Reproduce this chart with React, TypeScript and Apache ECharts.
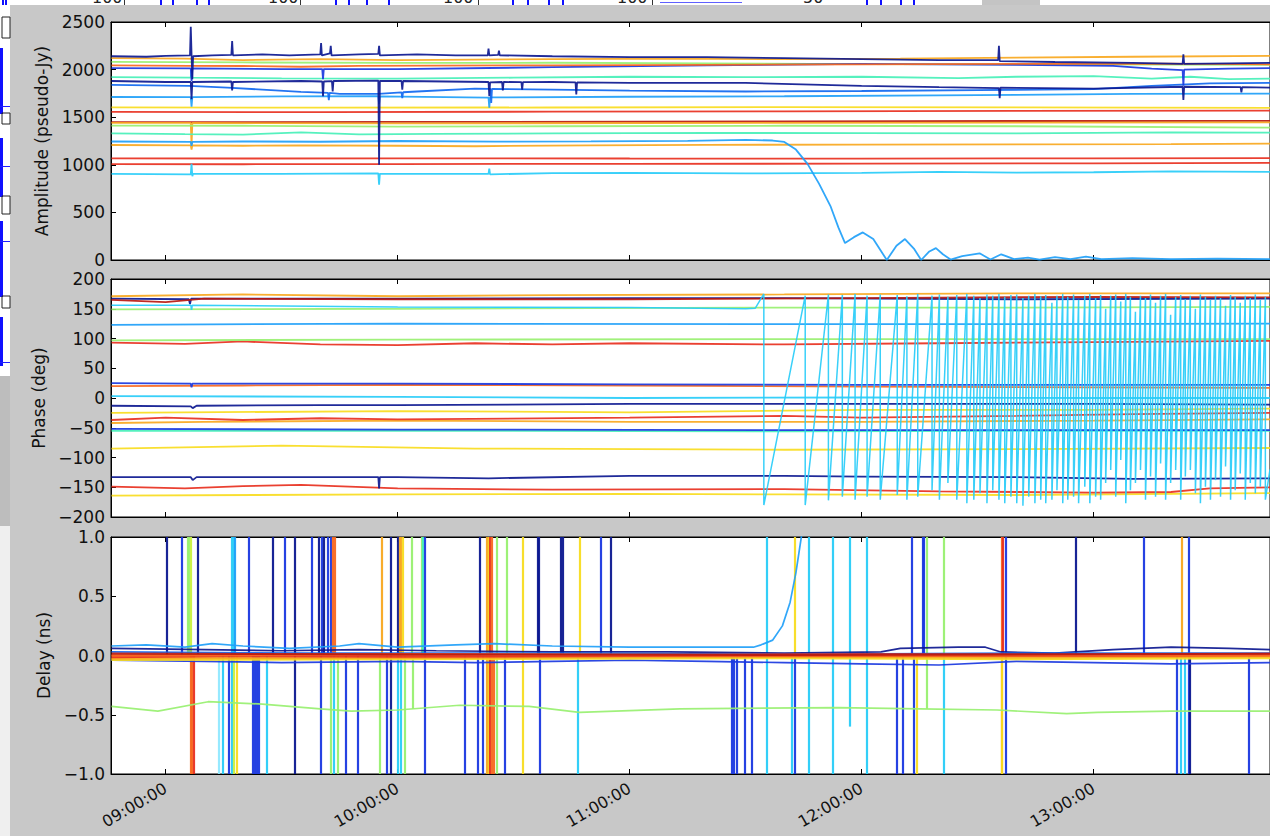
import React, { useEffect, useRef } from "react";
import * as echarts from "echarts";

// ---------- axes ----------
const X_MIN = 525.87; // minutes after midnight (08:45:52)
const X_MAX = 825.6;
const hourTicks = [540, 600, 660, 720, 780];

// jet-like colours, indexed by baseline
const palette = [
  "#0c1890", // 0 dark blue
  "#1a38e0", // 1 blue
  "#1068f0", // 2 mid blue
  "#20a0f8", // 3 light blue
  "#28ccf8", // 4 cyan
  "#48f0b8", // 5 aqua
  "#98f070", // 6 light green
  "#c8f040", // 7 yellow green
  "#f8dc20", // 8 yellow
  "#f8a820", // 9 orange
  "#f86820", // 10 orange red
  "#e83020", // 11 red
  "#b81810", // 12 dark red
  "#90e8ff", // 13 pale cyan
];

// ---------- amplitude (pseudo-Jy) ----------
const ampDarkBlueTop = [[526,2140],[535,2135],[540,2145],[546.3,2150],[546.5,2450],[546.7,2160],[546.9,1900],[547.1,2140],[552,2150],[557,2155],[557.2,2300],[557.4,2150],[565,2160],[572,2150],[580,2160],[580.2,2280],[580.4,2150],[582.5,2170],[582.7,2250],[582.9,2150],[590,2160],[595,2165],[595.2,2250],[595.4,2150],[605,2160],[615,2150],[623.3,2150],[623.5,2220],[623.7,2150],[626,2155],[626.2,2200],[626.4,2150],[640,2140],[660,2130],[680,2130],[700,2120],[720,2110],[740,2100],[755.3,2100],[755.5,2250],[755.7,2090],[770,2080],[790,2070],[803,2060],[803.2,2160],[803.4,2060],[815,2065],[826,2070]];
const ampOrangeTop = [[526,2120],[545,2115],[560,2100],[580,2110],[600,2100],[620,2105],[640,2110],[670,2115],[700,2110],[730,2115],[760,2125],[790,2135],[826,2145]];
const ampOrangeMid = [[526,2045],[546,2040],[560,2038],[575,2030],[590,2040],[610,2042],[640,2045],[680,2050],[720,2055],[760,2060],[800,2062],[826,2055]];
const ampGreenTop = [[526,2082],[560,2075],[600,2070],[640,2072],[680,2065],[720,2058],[760,2055],[800,2052],[826,2050]];
const ampBlueTop = [[526,2015],[546.5,2012],[546.7,1880],[546.9,2012],[570,2005],[580.5,2005],[580.7,1900],[580.9,2005],[600,2005],[640,2025],[680,2045],[720,2060],[760,2050],[785,2040],[795,2010],[803,1995],[803.2,1830],[803.4,2000],[815,2010],[826,2015]];
const ampAqua1 = [[526,1920],[546.5,1915],[546.7,2010],[546.9,1915],[570,1908],[600,1905],[630,1915],[660,1925],[690,1920],[720,1925],[745,1910],[760,1925],[780,1932],[795,1905],[805,1925],[815,1900],[826,1905]];
const ampDarkBlueMid = [[526,1880],[540,1870],[546.5,1870],[546.7,1690],[546.9,1870],[557,1875],[557.2,1780],[557.4,1870],[575,1880],[580.5,1875],[580.7,1720],[580.9,1875],[583,1880],[583.2,1770],[583.4,1880],[595,1885],[595.2,1000],[595.4,1880],[601,1880],[601.2,1790],[601.4,1880],[623.5,1870],[623.7,1720],[623.9,1865],[627,1870],[627.2,1780],[627.4,1870],[632,1868],[632.2,1790],[632.4,1868],[640,1870],[646,1865],[646.2,1740],[646.4,1865],[660,1860],[690,1860],[720,1830],[740,1815],[755.5,1805],[755.7,1700],[755.9,1810],[780,1800],[803,1820],[803.2,1680],[803.4,1820],[818,1815],[818.2,1760],[818.4,1815],[826,1810]];
const ampBlueMid = [[526,1840],[546,1830],[556,1810],[565,1790],[575,1765],[582,1755],[582.2,1680],[582.4,1755],[585,1745],[595,1745],[601,1760],[601.2,1700],[601.4,1762],[605,1770],[620,1800],[624,1798],[624.2,1650],[624.4,1798],[640,1790],[660,1780],[690,1770],[720,1775],[750,1785],[780,1795],[795,1830],[810,1855],[826,1860]];
const ampLightBlue = [[526,1712],[546.5,1710],[546.7,1610],[546.9,1710],[570,1718],[595,1720],[595.2,1640],[595.4,1718],[623.5,1705],[623.7,1600],[623.9,1708],[660,1715],[700,1720],[740,1730],[760,1735],[790,1745],[826,1748]];
const ampYellow = [[526,1603],[580,1600],[640,1602],[700,1606],[760,1604],[826,1598]];
const ampRed1 = [[526,1556],[580,1553],[640,1558],[700,1562],[760,1566],[826,1570]];
const ampDarkRed = [[526,1448],[600,1450],[700,1455],[760,1460],[826,1462]];
const ampOrange2 = [[526,1440],[546.5,1440],[546.7,1200],[546.9,1440],[600,1435],[700,1440],[826,1445]];
const ampGreen2 = [[526,1412],[560,1410],[600,1400],[640,1405],[700,1410],[760,1405],[826,1390]];
const ampAqua2 = [[526,1330],[545,1322],[560,1318],[575,1340],[590,1320],[610,1325],[640,1330],[680,1335],[720,1333],[760,1330],[800,1340],[826,1338]];
const ampCyanDrop = [[526,1245],[546.5,1240],[546.7,1200],[546.9,1240],[560,1245],[580,1242],[600,1250],[625,1244],[650,1246],[675,1252],[690,1262],[697,1255],[700,1240],[703,1160],[706,1010],[709,800],[712,560],[714,340],[715.7,178],[718,240],[720.3,290],[723,220],[726.5,0],[729,150],[731.2,220],[733.5,120],[735.4,0],[737.5,90],[739.2,125],[741,60],[743,5],[746,40],[750.5,70],[753.3,5],[756.1,60],[759.4,10],[763,25],[766,5],[770,30],[774,10],[778,35],[782,10],[790,20],[800,10],[812,15],[826,10]];
const ampYellowOrange = [[526,1208],[546.5,1205],[546.7,1160],[546.9,1205],[560,1200],[575,1205],[600,1200],[620,1195],[650,1205],[680,1210],[720,1212],[760,1215],[800,1218],[826,1222]];
const ampRed2 = [[526,1068],[560,1066],[600,1068],[660,1066],[720,1065],[780,1068],[826,1070]];
const ampRed3 = [[526,1008],[560,1006],[600,1008],[660,1010],[720,1012],[780,1015],[826,1020]];
const ampCyan2 = [[526,905],[546.5,900],[546.7,1010],[546.9,880],[547.1,905],[570,905],[595,910],[595.2,790],[595.4,905],[623.5,905],[623.7,960],[623.9,900],[640,912],[660,915],[690,910],[720,915],[740,925],[760,918],[780,922],[800,930],[826,925]];

const ampLines: [number, number[][]][] = [
  [12, ampDarkRed], [11, ampRed1], [11, ampRed2], [11, ampRed3], [8, ampYellow],
  [9, ampYellowOrange], [9, ampOrange2], [6, ampGreen2], [5, ampAqua2], [4, ampCyan2],
  [3, ampCyanDrop], [3, ampLightBlue], [2, ampBlueMid], [5, ampAqua1], [6, ampGreenTop],
  [1, ampBlueTop], [0, ampDarkBlueMid], [10, ampOrangeMid], [9, ampOrangeTop], [0, ampDarkBlueTop],
];

// ---------- phase (deg) ----------
const phOrange1 = [[526,171],[560,174],[600,171],[640,173],[700,174],[760,176],[826,176]];
const phDarkRed = [[526,165],[540,161],[550,167],[600,166],[660,166],[720,168],[780,170],[826,169]];
const phDarkBlue1 = [[526,167],[546,166],[546.3,158],[546.6,167],[600,167],[660,168],[700,168],[760,166],[826,167]];
const phGreen1 = [[526,149],[600,150],[700,152],[760,152],[826,153]];
const phLightBlue = [[526,123],[600,125],[700,124],[760,124],[826,125]];
const phLightGreen = [[526,97],[600,98],[700,99],[826,99]];
const phRed1 = [[526,93],[545,91],[560,95],[580,90],[600,89],[620,92],[640,90],[660,92],[700,90],[740,92],[780,94],[826,96]];
const phBlue1 = [[526,25],[546.5,24],[546.7,18],[546.9,24],[600,24],[660,23],[720,22],[780,22],[826,22]];
const phOrange2 = [[526,20],[560,21],[600,22],[660,21],[720,19],[780,18],[826,17]];
const phCyan2 = [[526,3],[600,2],[660,0],[720,1],[780,0],[826,0]];
const phDarkBlue2 = [[526,-13],[546.5,-14],[547,-17],[548,-13],[580,-12],[600,-12],[660,-10],[720,-10],[780,-10],[826,-11]];
const phYellow1 = [[526,-25],[600,-22],[660,-24],[720,-20],[780,-20],[826,-18]];
const phRed2 = [[526,-37],[540,-33],[560,-37],[580,-34],[600,-36],[660,-33],[700,-30],[720,-33],[760,-30],[790,-27],[826,-25]];
const phOrange3 = [[526,-42],[550,-40],[600,-38],[660,-40],[720,-40],[780,-38],[826,-36]];
const phBlue2 = [[526,-52],[600,-53],[700,-54],[780,-54],[826,-54]];
const phAqua = [[526,-55],[600,-55],[700,-56],[780,-55],[826,-55]];
const phYellow2 = [[526,-85],[570,-80],[620,-85],[700,-87],[760,-86],[826,-84]];
const phDarkBlue3 = [[526,-133],[546.5,-133],[547,-138],[548,-133],[595,-133],[595.2,-152],[595.4,-133],[600,-133],[623.5,-135],[660,-131],[700,-131],[720,-132],[760,-133],[790,-136],[826,-135]];
const phRed3 = [[526,-149],[545,-152],[560,-148],[575,-146],[600,-152],[640,-154],[700,-153],[740,-157],[780,-159],[800,-158],[810,-152],[826,-150]];
const phYellow3 = [[526,-164],[600,-162],[660,-161],[700,-162],[760,-163],[826,-160]];

// cyan baseline whose phase starts wrapping at ~11:35
const phCyanBefore = [[526,156],[546.5,156],[546.7,148],[546.9,156],[600,153],[660,152],[690,150],[692.5,151]];
const phaseWrapTimes = [694.7,705.4,711.4,715.0,718.3,721.4,724.8,729.2,731.7,734.5,738.2,740.1,742.3,744.6,747.2,749.0,750.6,752.4,753.9,755.5,757.0,758.6,760.1,761.7,763.2,764.8,766.3,767.6,769.2,770.5,772.0,773.3,774.8,776.1,777.7,779.0,780.5,781.8,783.1,784.4,785.7,787.0,788.3,789.5,790.8,792.1,793.4,794.7,796.0,797.3,798.6,799.9,801.2,802.5,803.7,805.0,806.3,807.6,808.9,810.2,811.5,812.8,814.1,815.4,816.6,817.9,819.2,820.5,821.8,823.1,824.4];
const phaseWrapHighs = [175,172,174,173,175,172,174,173,171,175,172,174,170,173,175,172,168,174,172,175,170,173,174,168,172,175,171,173,160,172,175,170,174,165,172,175,168,173,150,172,174,162,175,170,145,172,168,174,160,172,175,140,170,173,166,172,150,174,170,165,172,168,155,173,170,160,172,168,174,165,170];
const phaseWrapLows = [-180,-180,-172,-166,-171,-166,-171,-163,-171,-166,-155,-171,-143,-171,-177,-171,-160,-177,-155,-171,-177,-166,-177,-181,-166,-177,-171,-177,-171,-155,-177,-171,-166,-177,-149,-177,-166,-171,-143,-121,-166,-104,-177,-155,-143,-121,-171,-132,-166,-110,-171,-143,-121,-171,-132,-121,-160,-177,-149,-171,-138,-166,-115,-171,-155,-127,-171,-143,-160,-149,-171];
const phCyanEnd = [[825.6,-120]];

const phLines: [number, number[][]][] = [
  [8, phYellow3], [11, phRed3], [0, phDarkBlue3], [8, phYellow2], [5, phAqua], [1, phBlue2],
  [9, phOrange3], [11, phRed2], [8, phYellow1], [0, phDarkBlue2], [4, phCyan2], [10, phOrange2],
  [1, phBlue1], [11, phRed1], [6, phLightGreen], [3, phLightBlue], [6, phGreen1], [0, phDarkBlue1],
  [12, phDarkRed], [9, phOrange1],
];

// ---------- delay (ns) ----------
const dlCyan = [[526,0.08],[535,0.09],[545,0.07],[552,0.1],[560,0.08],[572,0.06],[585,0.08],[590,0.1],[600,0.07],[615,0.09],[625,0.1],[640,0.08],[660,0.07],[680,0.07],[692,0.07],[694,0.09],[697,0.13],[699.5,0.25],[701.5,0.45],[703,0.7],[704.4,1.0],[705.5,1.2]];
const dlDarkBlue = [[526,0.06],[550,0.05],[570,0.04],[590,0.05],[610,0.04],[640,0.03],[670,0.03],[700,0.02],[725,0.03],[730,0.06],[745,0.07],[752,0.07],[756,0.03],[770,0.02],[785,0.05],[800,0.07],[815,0.06],[826,0.05]];
const dlBlueLow = [[526,-0.04],[550,-0.05],[570,-0.06],[600,-0.05],[620,-0.06],[640,-0.05],[660,-0.04],[680,-0.05],[700,-0.06],[720,-0.07],[740,-0.08],[760,-0.05],[780,-0.06],[800,-0.07],[826,-0.06]];
const dlMidBlue = [[526,0.03],[580,0.02],[640,0.02],[700,0.01],[760,0.02],[826,0.02]];
const dlYellow = [[526,-0.035],[600,-0.03],[700,-0.02],[760,-0.03],[826,-0.02]];
const dlOrange = [[526,-0.025],[580,-0.02],[640,-0.015],[700,-0.01],[760,-0.015],[826,-0.005]];
const dlRed = [[526,-0.01],[560,0.0],[600,-0.005],[660,0.0],[720,0.005],[780,0.0],[826,0.01]];
const dlOrangeRed = [[526,0.0],[600,0.01],[700,0.0],[826,0.0]];
const dlDarkRed = [[526,0.015],[600,0.01],[700,0.005],[826,0.015]];
const dlGreen = [[526,-0.43],[538,-0.47],[551,-0.39],[565,-0.41],[580,-0.45],[588,-0.47],[600,-0.46],[616,-0.42],[634,-0.43],[647,-0.48],[673,-0.45],[714,-0.44],[735,-0.45],[755,-0.46],[773,-0.49],[781,-0.48],[800,-0.47],[826,-0.47]];

const dlLines: [number, number[][], number][] = [
  [6, dlGreen, 1.7], [3, dlCyan, 1.7], [0, dlDarkBlue, 1.7], [1, dlBlueLow, 1.7], [2, dlMidBlue, 1.7],
  [8, dlYellow, 2.6], [9, dlOrange, 2.6], [11, dlRed, 3.2], [10, dlOrangeRed, 2.6], [12, dlDarkRed, 2.2],
];

// delay jumps: [time, from, to, baseline colour index]
const delaySpikes: [number, number, number, number][] = [
  [540.3,0,1,0],[544.1,0,1,1],[545.6,0,1,6],[545.9,0,1,6],[546.4,0,1,7],
  [546.5,-1,0,10],[546.8,-1,0,10],[547.2,-1,0,11],[548.3,0,1,0],
  [553.7,-1,0,13],[554.7,-1,0,4],[556.3,-1,0,1],[557.2,-1,1,4],[557.6,0,1,4],[558.0,0,1,3],
  [557.5,-1,0,7],[558.3,-1,0,8],[561.4,0,1,1],
  [562.5,-1,0,1],[563.0,-1,0,1],[563.5,-1,0,1],[564.0,-1,0,1],[566.1,-1,0,4],
  [567.6,0,1,0],[570.7,0,1,1],[573.3,-1,1,0],[577.9,0,1,1],
  [579.5,0,1,0],[580.0,-1,0,1],[580.3,0,1,1],[581.0,0,1,0],[581.8,0,1,1],[582.6,0,1,1],
  [582.6,-1,0,6],[583.3,0,1,10],[583.7,0,1,10],[583.6,-1,0,4],[584.4,-1,0,6],
  [586.5,-1,0,1],[589.8,-1,0,1],
  [595.5,-1,0,6],[596.0,0,1,9],[597.3,-1,0,1],[598.1,-1,1,0],
  [599.9,0,1,0],[600.1,-1,0,4],[600.5,0,1,9],[600.8,0,1,9],[600.9,-1,0,4],[601.4,0,1,8],[601.9,-1,0,6],
  [603.7,0,1,6],[604.0,-0.45,0,6],[606.3,0,1,6],[606.6,0,1,5],[607.1,-1,1,1],
  [617.4,-1,0,1],[620.8,-1,0,1],[621.3,0,1,0],[622.1,-1,0,1],
  [623.1,-1,1,9],[623.5,-1,1,8],[623.9,-1,1,11],[624.4,-1,1,10],[624.9,-1,0,10],[625.7,-1,1,6],
  [627.7,-1,0,1],[628.3,0,1,6],[632.4,-1,1,8],
  [636.2,0,1,0],[636.5,0,1,0],[636.8,-1,0,1],[642.3,0,1,0],[642.7,0,1,0],
  [646.6,-1,0,4],[647.1,0,1,8],[652.5,0,1,1],[655.1,0,1,0],
  [686.4,-1,0,1],[686.8,-1,0,1],[687.6,-1,0,1],[689.7,-1,0,1],[691.7,-1,0,1],
  [695.4,-1,1,4],[701.8,-1,0,4],[702.6,-1,0,1],[702.6,0,1,8],
  [706.2,-1,1,4],[712.4,-1,1,4],[717.0,-0.6,1,4],[721.2,-1,1,4],
  [729.2,-1,0,1],[730.5,-1,0,1],[733.0,0,1,1],[733.5,-1,0,1],[734.3,-1,0,8],
  [735.7,0,1,1],[736.1,0,1,1],[736.9,-0.45,1,6],[741.3,0,1,6],[741.3,-1,0,4],
  [756.1,-1,1,10],[756.5,0,1,11],[756.3,-1,0,8],[757.3,-1,1,1],
  [775.4,0,1,0],[792.9,0,1,1],
  [801.4,-1,0,1],[802.5,-1,0,4],[802.7,0,1,9],[803.5,-1,0,4],[804.5,-1,1,1],[804.8,-1,0,0],
  [820.0,-1,0,1],
];

// ---------- helpers ----------
const FONT = "DejaVu Sans";
const minus = (s: string) => s.replace("-", "\u2212");
const hhmm = (v: number) => String(Math.floor(v / 60)).padStart(2, "0") + ":00:00";

function buildPhaseCyan(): number[][] {
  const out: number[][] = phCyanBefore.map((p) => [p[0], p[1]]);
  phaseWrapTimes.forEach((t, i) => {
    out.push([t, phaseWrapHighs[i] ?? 172]);
    out.push([t, phaseWrapLows[i] ?? -170]);
  });
  phCyanEnd.forEach((p) => out.push(p));
  return out;
}

function line(data: number[][], c: number, xi: number, yi: number, w = 1.8, z = 3) {
  return {
    type: "line",
    data,
    xAxisIndex: xi,
    yAxisIndex: yi,
    symbol: "none",
    showSymbol: false,
    silent: true,
    clip: true,
    z,
    lineStyle: { color: palette[c], width: w, opacity: 0.92 },
  };
}

const GRIDS = [
  { left: 111, top: 22, height: 238 },
  { left: 111, top: 279, height: 238 },
  { left: 111, top: 537, height: 237 },
];

function xAxes(gi: number) {
  const common = {
    type: "value",
    gridIndex: gi,
    min: X_MIN,
    max: X_MAX,
    splitLine: { show: false },
    axisLine: { show: true, onZero: false, lineStyle: { color: "#000", width: 1 } },
    axisTick: { show: true, inside: true, length: 5, customValues: hourTicks, lineStyle: { color: "#000" } },
  };
  return [
    {
      ...common,
      position: "bottom",
      axisLabel: {
        show: gi === 2,
        customValues: hourTicks,
        rotate: 30,
        margin: 13,
        fontSize: 16,
        color: "#111",
        fontFamily: FONT,
        formatter: (v: number) => hhmm(v),
      },
    },
    { ...common, position: "top", axisLabel: { show: false } },
  ];
}

function yAxis(gi: number, name: string, min: number, max: number, interval: number, gap: number, fmt: (v: number) => string) {
  return {
    type: "value",
    gridIndex: gi,
    min,
    max,
    interval,
    name,
    nameLocation: "middle",
    nameRotate: 90,
    nameGap: gap,
    nameTextStyle: { fontSize: 17, color: "#111", fontFamily: FONT },
    splitLine: { show: false },
    axisLine: { show: true, onZero: false, lineStyle: { color: "#000", width: 1 } },
    axisTick: { show: true, inside: true, length: 5, lineStyle: { color: "#000" } },
    axisLabel: { fontSize: 17, color: "#111", fontFamily: FONT, margin: 6, formatter: fmt },
  };
}

// decorations of the window lying behind the plot window
function backgroundGraphics() {
  const g: any[] = [];
  g.push({ type: "rect", shape: { x: 0, y: 0, width: 1270, height: 5 }, style: { fill: "#ffffff" }, z: 1 });
  g.push({ type: "rect", shape: { x: 982, y: 0, width: 58, height: 5 }, style: { fill: "#c4c4c4" }, z: 2 });
  g.push({ type: "rect", shape: { x: 0, y: 0, width: 10, height: 376 }, style: { fill: "#ffffff" }, z: 1 });
  g.push({ type: "rect", shape: { x: 0, y: 376, width: 10, height: 150 }, style: { fill: "#bdbdbd" }, z: 1 });
  g.push({ type: "rect", shape: { x: 0, y: 526, width: 10, height: 310 }, style: { fill: "#efefef" }, z: 1 });
  const topBars = [2, 5, 160, 172, 196, 208, 335, 348, 366, 388, 512, 527, 548, 562, 866, 880, 900, 913];
  topBars.forEach((x) => g.push({ type: "rect", shape: { x, y: 0, width: 2, height: 5 }, style: { fill: "#1010ff" }, z: 2 }));
  g.push({ type: "rect", shape: { x: 660, y: 2, width: 82, height: 1 }, style: { fill: "#6060ff" }, z: 2 });
  [[92, "100"], [268, "100"], [443, "100"], [617, "100"], [803, "50"]].forEach(([x, t]) =>
    g.push({ type: "text", x, y: 5, style: { text: t, fontSize: 16, fontFamily: FONT, fill: "#222", verticalAlign: "bottom" }, z: 2 })
  );
  [124, 300, 478, 652].forEach((x) => g.push({ type: "rect", shape: { x, y: 0, width: 1, height: 5 }, style: { fill: "#333" }, z: 2 }));
  [[48, 66], [138, 59], [221, 76], [317, 49]].forEach(([y, h]) =>
    g.push({ type: "rect", shape: { x: 0, y, width: 3, height: h }, style: { fill: "#1010ff" }, z: 2 })
  );
  [106, 166, 241, 362].forEach((y) => g.push({ type: "rect", shape: { x: 0, y, width: 10, height: 1 }, style: { fill: "#2020ff" }, z: 2 }));
  [[17, 21], [113, 11], [196, 18], [296, 12]].forEach(([y, h]) =>
    g.push({ type: "rect", shape: { x: 2, y, width: 8, height: h }, style: { fill: "none", stroke: "#222", lineWidth: 1 }, z: 2 })
  );
  return g;
}

export default function App() {
  const ref = useRef<HTMLDivElement>(null);
  useEffect(() => {
    if (!ref.current) return;
    const chart = echarts.init(ref.current, undefined, { renderer: "svg" });
    const series: any[] = [];
    ampLines.forEach(([c, d]) => series.push(line(d, c, 0, 0)));
    phLines.forEach(([c, d]) => series.push(line(d, c, 2, 1)));
    series.push(line(buildPhaseCyan(), 4, 2, 1, 1.5, 4));
    series.push({
      type: "lines",
      coordinateSystem: "cartesian2d",
      xAxisIndex: 4,
      yAxisIndex: 2,
      silent: true,
      z: 2,
      lineStyle: { width: 2.2, opacity: 0.95, curveness: 0 },
      data: delaySpikes.map(([t, lo, hi, c]) => ({
        coords: [[t, lo], [t, hi]],
        lineStyle: { color: palette[c] },
      })),
    });
    dlLines.forEach(([c, d, w]) => series.push(line(d, c, 4, 2, w, 3)));

    chart.setOption({
      animation: false,
      backgroundColor: "#c8c8c8",
      graphic: backgroundGraphics(),
      grid: GRIDS.map((g) => ({
        ...g,
        right: -1,
        show: true,
        backgroundColor: "#ffffff",
        borderColor: "#000",
        borderWidth: 1,
        containLabel: false,
      })),
      xAxis: [...xAxes(0), ...xAxes(1), ...xAxes(2)],
      yAxis: [
        yAxis(0, "Amplitude (pseudo-Jy)", 0, 2500, 500, 56, (v) => String(v)),
        yAxis(1, "Phase (deg)", -200, 200, 50, 60, (v) => minus(String(v))),
        yAxis(2, "Delay (ns)", -1, 1, 0.5, 55, (v) => minus(v.toFixed(1))),
      ],
      series,
    });
    return () => chart.dispose();
  }, []);
  return (
    <div
      ref={ref}
      style={{ position: "fixed", left: 0, top: 0, width: 1270, height: 836 }}
    />
  );
}
